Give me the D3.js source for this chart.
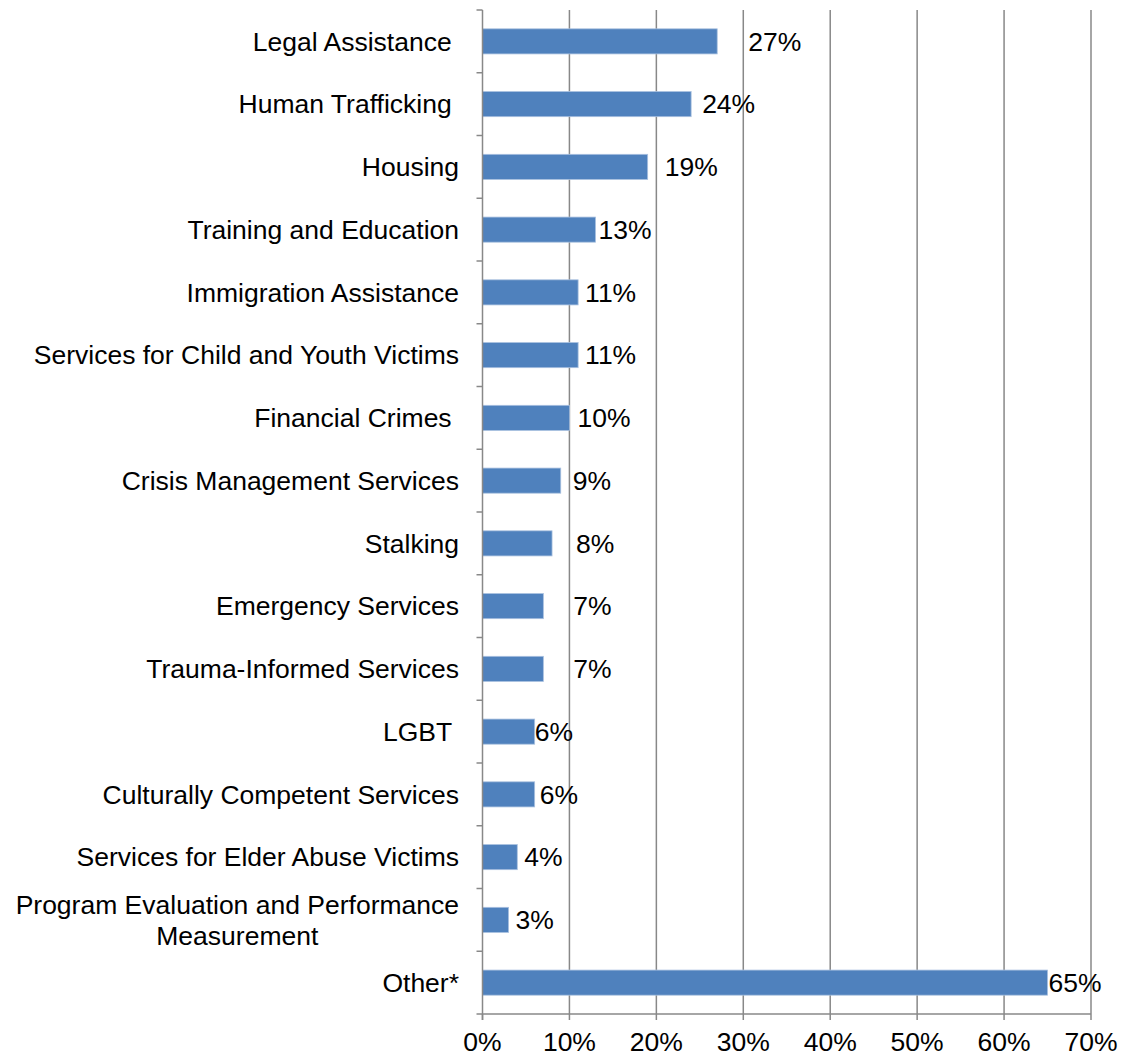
<!DOCTYPE html>
<html><head><meta charset="utf-8">
<script src="https://cdn.jsdelivr.net/npm/d3@7"></script>
<style>body{margin:0;background:#fff}svg{display:block;font-family:"Liberation Sans",Arial,sans-serif}</style>
</head><body>
<script>
const categories = ["Legal Assistance ","Human Trafficking ","Housing","Training and Education","Immigration Assistance","Services for Child and Youth Victims","Financial Crimes ","Crisis Management Services","Stalking","Emergency Services","Trauma-Informed Services","LGBT ","Culturally Competent Services","Services for Elder Abuse Victims","Program Evaluation and Performance\nMeasurement","Other*"];
const values = [27,24,19,13,11,11,10,9,8,7,7,6,6,4,3,65];
const valueLabels = ["27%","24%","19%","13%","11%","11%","10%","9%","8%","7%","7%","6%","6%","4%","3%","65%"];
const labelOffsets = [31,11,17,3,7,7,8,12,24,30,30,0,5,7,7,1];
const xTicks = [0,10,20,30,40,50,60,70];

const W=1121,H=1057,FS=26.5;
const m={left:482.5,right:1091,top:10,bottom:1014};
const svg=d3.select("body").append("svg").attr("width",W).attr("height",H);
const x=d3.scaleLinear().domain([0,70]).range([m.left,m.right]);
const y=d3.scaleBand().domain(d3.range(categories.length)).range([m.top,m.bottom]).paddingInner(0.6).paddingOuter(0.3);
const grey="#888";
svg.append("g").selectAll("line").data(xTicks.slice(1)).join("line")
 .attr("x1",d=>x(d)).attr("x2",d=>x(d)).attr("y1",m.top).attr("y2",m.bottom)
 .attr("stroke",grey).attr("stroke-width",1.5);
svg.append("g").selectAll("rect").data(values).join("rect")
 .attr("x",x(0)).attr("y",(d,i)=>y(i)).attr("width",d=>x(d)-x(0)).attr("height",y.bandwidth())
 .attr("fill","#4F81BD").attr("stroke","#a9c0df").attr("stroke-width",0.8);
const band=(m.bottom-m.top)/categories.length;
svg.append("line").attr("x1",m.left).attr("x2",m.left).attr("y1",m.top).attr("y2",m.bottom+6).attr("stroke",grey).attr("stroke-width",1.5);
svg.append("g").selectAll("line").data(d3.range(categories.length+1)).join("line")
 .attr("x1",m.left-6).attr("x2",m.left).attr("y1",d=>m.top+d*band).attr("y2",d=>m.top+d*band)
 .attr("stroke",grey).attr("stroke-width",1.5);
svg.append("line").attr("x1",m.left).attr("x2",m.right).attr("y1",m.bottom).attr("y2",m.bottom).attr("stroke",grey).attr("stroke-width",1.5);
svg.append("g").selectAll("line").data(xTicks).join("line")
 .attr("x1",d=>x(d)).attr("x2",d=>x(d)).attr("y1",m.bottom).attr("y2",m.bottom+6).attr("stroke",grey).attr("stroke-width",1.5);
svg.append("g").selectAll("text").data(xTicks).join("text")
 .attr("x",d=>x(d)).attr("y",1051).attr("text-anchor","middle").attr("font-size",FS).attr("fill","#000")
 .text(d=>d+"%");
const cl=svg.append("g").selectAll("text").data(categories).join("text")
 .attr("font-size",FS).attr("fill","#000").attr("xml:space","preserve").style("white-space","pre");
cl.each(function(d,i){
  const lines=d.split("\n");
  const t=d3.select(this);
  const cy=y(i)+y.bandwidth()/2;
  if(lines.length===1){
    t.attr("x",459).attr("y",cy).attr("dy","0.35em").attr("text-anchor","end").text(d);
  } else {
    t.attr("text-anchor","middle");
    const tmp=svg.append("text").attr("font-size",FS).text(lines[0]);
    const w=tmp.node().getComputedTextLength(); tmp.remove();
    const cx=459-w/2;
    lines.forEach((ln,k)=>{
      t.append("tspan").attr("x",cx).attr("y",cy+(k-(lines.length-1)/2)*31).attr("dy","0.35em").text(ln);
    });
  }
});
svg.append("g").selectAll("text").data(values).join("text")
 .attr("x",(d,i)=>x(d)+labelOffsets[i]).attr("y",(d,i)=>y(i)+y.bandwidth()/2).attr("dy","0.35em")
 .attr("font-size",FS).attr("fill","#000").text((d,i)=>valueLabels[i]);
</script>
</body></html>
